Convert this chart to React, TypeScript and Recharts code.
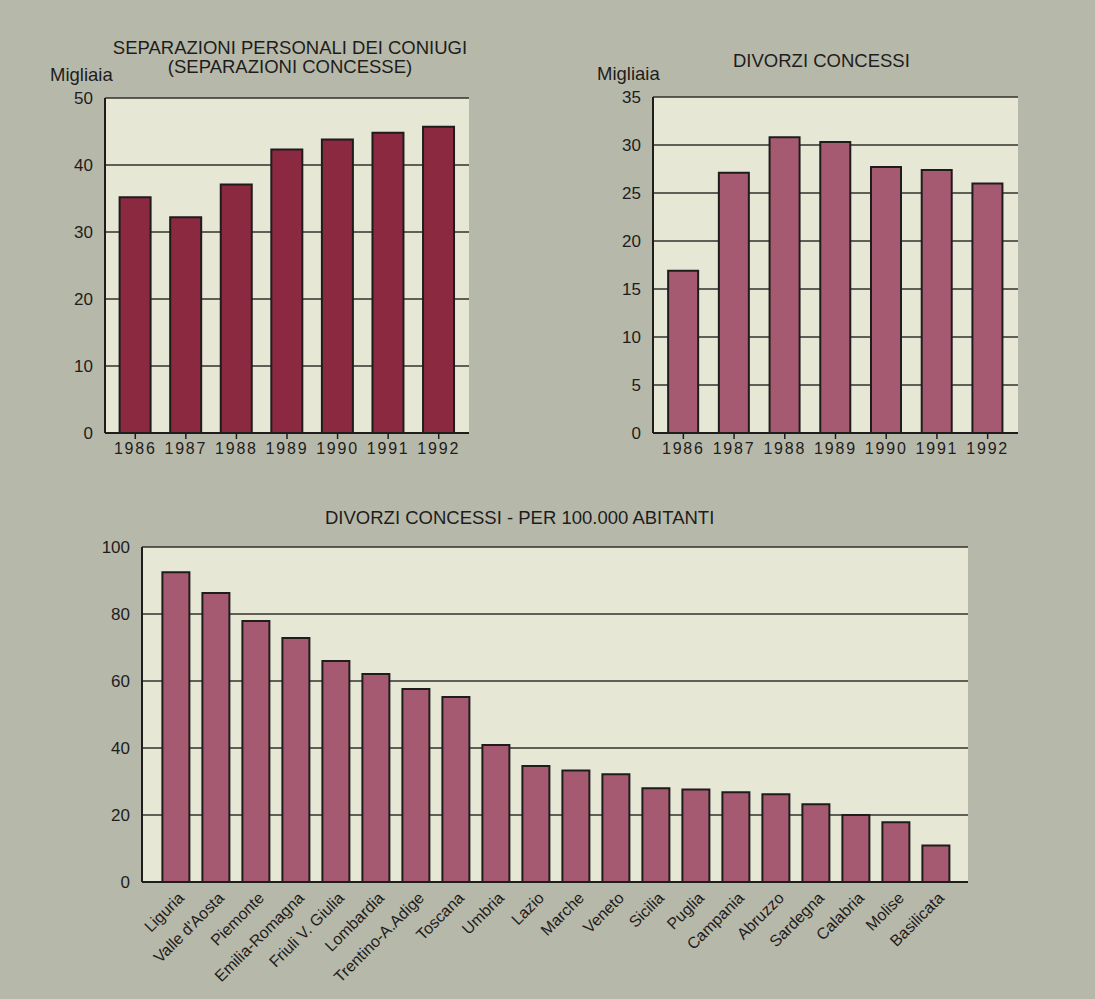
import { BarChart, Bar, XAxis, YAxis, CartesianGrid } from "recharts";

// dati
const anni = ["1986", "1987", "1988", "1989", "1990", "1991", "1992"];
const separazioni = [35.2, 32.2, 37.1, 42.3, 43.8, 44.8, 45.7]; // migliaia
const divorzi = [16.9, 27.1, 30.8, 30.3, 27.7, 27.4, 26.0]; // migliaia

const regioni = [
  "Liguria",
  "Valle d'Aosta",
  "Piemonte",
  "Emilia-Romagna",
  "Friuli V. Giulia",
  "Lombardia",
  "Trentino-A.Adige",
  "Toscana",
  "Umbria",
  "Lazio",
  "Marche",
  "Veneto",
  "Sicilia",
  "Puglia",
  "Campania",
  "Abruzzo",
  "Sardegna",
  "Calabria",
  "Molise",
  "Basilicata",
];
const divorziPer100k = [
  92.5, 86.3, 77.9, 72.8, 66, 62.1, 57.6, 55.2, 40.9, 34.6, 33.3, 32.2, 28, 27.6,
  26.8, 26.2, 23.2, 20, 17.8, 10.9,
];

const ticksSep = [0, 10, 20, 30, 40, 50];
const ticksDiv = [0, 5, 10, 15, 20, 25, 30, 35];
const ticksReg = [0, 20, 40, 60, 80, 100];

const sepData = anni.map((anno, i) => ({ anno, valore: separazioni[i] }));
const divData = anni.map((anno, i) => ({ anno, valore: divorzi[i] }));
const regData = regioni.map((regione, i) => ({ regione, valore: divorziPer100k[i] }));

const PAGE_BG = "#b6b9aa";
const PLOT_BG = "#e7e7d5";
const INK = "#1f1c1c";
const FONT = "'Liberation Sans', Arial, Helvetica, sans-serif";
const DARK_RED = "#8b2941";
const MAUVE = "#a65a72";

const frame = { stroke: INK, strokeWidth: 2 };
const gridProps = {
  vertical: false,
  fill: PLOT_BG,
  fillOpacity: 1,
  stroke: "#34302c",
  strokeWidth: 1.4,
  strokeOpacity: 1,
};
const yTick = { fill: INK, fontSize: 17, fontFamily: FONT };
const yearTick = { fill: INK, fontSize: 16, fontFamily: FONT, letterSpacing: 1.8 };

function RegionTick(props: any) {
  const { x, y, payload } = props;
  const tx = x + 9;
  const ty = y + 9;
  return (
    <text
      x={tx}
      y={ty}
      transform={`rotate(-45, ${tx}, ${ty})`}
      textAnchor="end"
      fontSize={16}
      fontFamily={FONT}
      fill={INK}
    >
      {payload.value}
    </text>
  );
}

const label: React.CSSProperties = {
  position: "absolute",
  fontFamily: FONT,
  color: INK,
  fontSize: 18.5,
  lineHeight: "19px",
  whiteSpace: "nowrap",
};

export default function App() {
  return (
    <div
      style={{
        position: "absolute",
        left: 0,
        top: 0,
        width: 1095,
        height: 999,
        background: PAGE_BG,
        overflow: "hidden",
      }}
    >
      {/* separazioni */}
      <div style={{ ...label, left: 90, width: 400, top: 38, textAlign: "center" }}>
        SEPARAZIONI PERSONALI DEI CONIUGI
        <br />
        (SEPARAZIONI CONCESSE)
      </div>
      <div style={{ ...label, left: 50, top: 65 }}>Migliaia</div>
      <div style={{ position: "absolute", left: 0, top: 0 }}>
        <BarChart
          width={520}
          height={480}
          data={sepData}
          margin={{ top: 98, right: 51, bottom: 7, left: 55 }}
          barCategoryGap="19%"
        >
          <CartesianGrid {...gridProps} />
          <XAxis
            dataKey="anno"
            interval={0}
            padding={{ left: 5, right: 5 }}
            axisLine={frame}
            tickLine={{ stroke: INK, strokeWidth: 1.5 }}
            tickSize={6}
            tickMargin={4}
            tick={yearTick}
            height={40}
          />
          <YAxis
            domain={[0, 50]}
            ticks={ticksSep}
            axisLine={frame}
            tickLine={false}
            tickMargin={6}
            tick={yTick}
            width={50}
          />
          <XAxis xAxisId="top" orientation="top" dataKey="anno" height={0} tick={false} tickLine={false} axisLine={frame} />
          <YAxis yAxisId="right" orientation="right" domain={[0, 50]} width={0} tick={false} tickLine={false} axisLine={frame} />
          <Bar dataKey="valore" fill={DARK_RED} stroke={INK} strokeWidth={2} isAnimationActive={false} />
        </BarChart>
      </div>

      {/* divorzi */}
      <div style={{ ...label, left: 733, top: 51 }}>DIVORZI CONCESSI</div>
      <div style={{ ...label, left: 597, top: 64 }}>Migliaia</div>
      <div style={{ position: "absolute", left: 560, top: 0 }}>
        <BarChart
          width={500}
          height={480}
          data={divData}
          margin={{ top: 97, right: 42, bottom: 7, left: 43 }}
          barCategoryGap="20%"
        >
          <CartesianGrid {...gridProps} />
          <XAxis
            dataKey="anno"
            interval={0}
            padding={{ left: 5, right: 5 }}
            axisLine={frame}
            tickLine={{ stroke: INK, strokeWidth: 1.5 }}
            tickSize={6}
            tickMargin={4}
            tick={yearTick}
            height={40}
          />
          <YAxis
            domain={[0, 35]}
            ticks={ticksDiv}
            axisLine={frame}
            tickLine={false}
            tickMargin={6}
            tick={yTick}
            width={50}
          />
          <XAxis xAxisId="top" orientation="top" dataKey="anno" height={0} tick={false} tickLine={false} axisLine={frame} />
          <YAxis yAxisId="right" orientation="right" domain={[0, 35]} width={0} tick={false} tickLine={false} axisLine={frame} />
          <Bar dataKey="valore" fill={MAUVE} stroke={INK} strokeWidth={2} isAnimationActive={false} />
        </BarChart>
      </div>

      {/* divorzi per regione */}
      <div style={{ ...label, left: 325, top: 508 }}>DIVORZI CONCESSI - PER 100.000 ABITANTI</div>
      <div style={{ position: "absolute", left: 0, top: 500 }}>
        <BarChart
          width={1095}
          height={499}
          data={regData}
          margin={{ top: 47, right: 127, bottom: 7, left: 92 }}
          barCategoryGap="16%"
        >
          <CartesianGrid {...gridProps} />
          <XAxis
            dataKey="regione"
            interval={0}
            padding={{ left: 14, right: 12 }}
            axisLine={frame}
            tickLine={false}
            tick={<RegionTick />}
            height={110}
          />
          <YAxis
            domain={[0, 100]}
            ticks={ticksReg}
            axisLine={frame}
            tickLine={false}
            tickMargin={6}
            tick={yTick}
            width={50}
          />
          <XAxis xAxisId="top" orientation="top" dataKey="regione" height={0} tick={false} tickLine={false} axisLine={frame} />
          <YAxis yAxisId="right" orientation="right" domain={[0, 100]} width={0} tick={false} tickLine={false} axisLine={frame} />
          <Bar dataKey="valore" fill={MAUVE} stroke={INK} strokeWidth={2} isAnimationActive={false} />
        </BarChart>
      </div>
    </div>
  );
}
